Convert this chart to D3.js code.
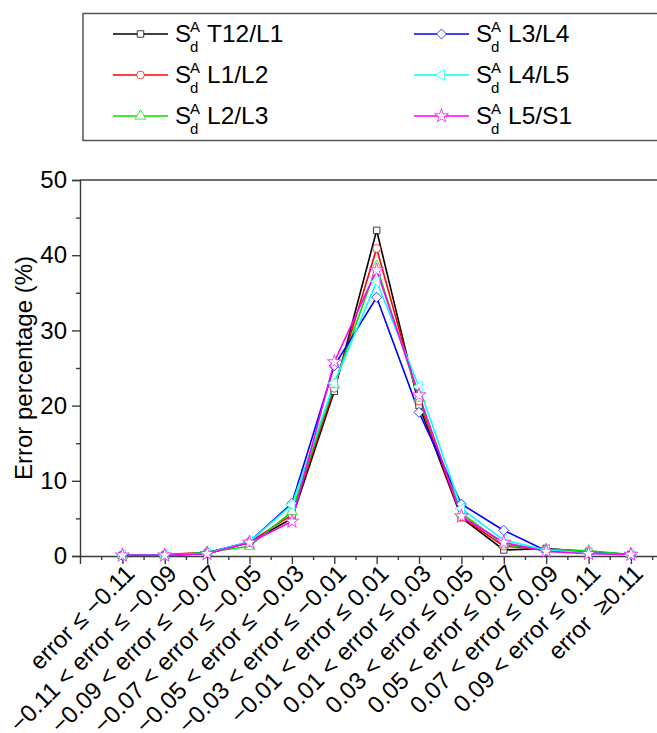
<!DOCTYPE html>
<html>
<head>
<meta charset="utf-8">
<script src="https://cdn.jsdelivr.net/npm/d3@7"></script>
<style>
body { margin: 0; background: #fff; }
svg { display: block; font-family: "Liberation Sans", Arial, sans-serif; }
</style>
</head>
<body>
<div id="chart"></div>
<script>
// categories (error bins)
const categories = [
  "error \u2264 \u22120.11",
  "\u22120.11 < error \u2264 \u22120.09",
  "\u22120.09 < error \u2264 \u22120.07",
  "\u22120.07 < error \u2264 \u22120.05",
  "\u22120.05 < error \u2264 \u22120.03",
  "\u22120.03 < error \u2264 \u22120.01",
  "\u22120.01 < error \u2264 0.01",
  "0.01 < error \u2264 0.03",
  "0.03 < error \u2264 0.05",
  "0.05 < error \u2264 0.07",
  "0.07 < error \u2264 0.09",
  "0.09 < error \u2264 0.11",
  "error \u00a0\u22650.11"
];
const seriesNames = ["T12/L1", "L1/L2", "L2/L3", "L3/L4", "L4/L5", "L5/S1"];
const t12l1 = [0.1, 0.1, 0.3, 1.8, 5.0, 21.9, 43.3, 20.0, 5.1, 0.8, 1.0, 0.6, 0.2];
const l1l2  = [0.1, 0.2, 0.5, 1.8, 5.5, 22.3, 40.9, 20.6, 5.2, 1.3, 0.9, 0.5, 0.2];
const l2l3  = [0.1, 0.1, 0.5, 1.3, 5.9, 22.8, 38.5, 21.0, 5.7, 1.5, 0.9, 0.7, 0.2];
const l3l4  = [0.1, 0.1, 0.4, 1.9, 7.0, 25.3, 34.4, 19.1, 6.9, 3.4, 0.7, 0.4, 0.2];
const l4l5  = [0.1, 0.1, 0.4, 1.9, 6.8, 23.0, 36.5, 22.5, 6.3, 2.1, 0.8, 0.4, 0.2];
const l5s1  = [0.1, 0.1, 0.3, 1.8, 4.6, 25.8, 38.0, 21.4, 5.3, 1.8, 0.6, 0.3, 0.2];
const yTicks = [0, 10, 20, 30, 40, 50];
const yMinor = [5, 15, 25, 35, 45];

const colors = ["#000000", "#ff0000", "#00e000", "#0000ff", "#00ffff", "#ff00ff"];
const values = [t12l1, l1l2, l2l3, l3l4, l4l5, l5s1];

const W = 657, H = 733;
const svg = d3.select("#chart").append("svg").attr("width", W).attr("height", H);

const x = d3.scaleLinear().domain([-1, 13]).range([80, 673.3]);
const y = d3.scaleLinear().domain([0, 50]).range([556, 180]);
const axisColor = "#3c3c3c";

// marker shapes
function markerPath(k) {
  if (k === 0) return d3.symbol(d3.symbolSquare, 42)();
  if (k === 1) return d3.symbol(d3.symbolCircle, 48)();
  if (k === 2) return d3.symbol(d3.symbolTriangle, 50)();
  if (k === 3) return "M0,-5L5,0L0,5L-5,0Z";
  if (k === 4) return d3.symbol(d3.symbolTriangle, 50)();
  return d3.symbol(d3.symbolStar, 60)();
}
function markerRot(k) { return k === 4 ? " rotate(-90)" : ""; }

// frame top line
svg.append("line").attr("x1", x(-1)).attr("x2", W).attr("y1", y(50)).attr("y2", y(50))
  .attr("stroke", axisColor).attr("stroke-width", 1.4);

// y axis
const yAxis = svg.append("g").attr("transform", `translate(${x(-1)},0)`)
  .call(d3.axisLeft(y).tickValues(yTicks).tickSize(8).tickPadding(5).tickFormat(d3.format("d")));
yAxis.select(".domain").attr("stroke", axisColor).attr("stroke-width", 1.4);
yAxis.selectAll(".tick line").attr("stroke", axisColor).attr("stroke-width", 1.4);
yAxis.selectAll(".tick text").attr("font-size", 24).attr("fill", "#000").attr("font-family", "Liberation Sans, Arial, sans-serif");
const yAxisMinor = svg.append("g").attr("transform", `translate(${x(-1)},0)`)
  .call(d3.axisLeft(y).tickValues(yMinor).tickSize(4).tickFormat(""));
yAxisMinor.select(".domain").remove();
yAxisMinor.selectAll(".tick line").attr("stroke", axisColor).attr("stroke-width", 1.4);

svg.append("text")
  .attr("transform", `translate(32,${(y(0) + y(50)) / 2}) rotate(-90)`)
  .attr("text-anchor", "middle").attr("font-size", 24).text("Error percentage (%)");

// x axis
const xMajor = d3.range(categories.length);
const xMinor = d3.range(-0.5, 13, 1);
const xAxis = svg.append("g").attr("transform", `translate(0,${y(0)})`)
  .call(d3.axisBottom(x).tickValues(xMajor).tickSize(8).tickFormat(i => categories[i]));
xAxis.select(".domain").attr("stroke", axisColor).attr("stroke-width", 1.4);
xAxis.selectAll(".tick line").attr("stroke", axisColor).attr("stroke-width", 1.4);
xAxis.selectAll(".tick text")
  .attr("font-size", 24).attr("fill", "#000").attr("font-family", "Liberation Sans, Arial, sans-serif")
  .attr("text-anchor", "end").attr("dy", null).attr("y", null)
  .attr("transform", "translate(13,19) rotate(-45)");
const xAxisMinor = svg.append("g").attr("transform", `translate(0,${y(0)})`)
  .call(d3.axisBottom(x).tickValues(xMinor).tickSize(4).tickFormat(""));
xAxisMinor.select(".domain").remove();
xAxisMinor.selectAll(".tick line").attr("stroke", axisColor).attr("stroke-width", 1.4);

// series
const line = d3.line().x((d, i) => x(i)).y(d => y(d));
values.forEach((vals, k) => {
  svg.append("path").datum(vals).attr("d", line)
    .attr("fill", "none").attr("stroke", colors[k]).attr("stroke-width", 1.6);
});
values.forEach((vals, k) => {
  svg.append("g").selectAll("path").data(vals).join("path")
    .attr("d", markerPath(k))
    .attr("transform", (d, i) => `translate(${x(i)},${y(d)})${markerRot(k)}`)
    .attr("fill", "#fff").attr("stroke", colors[k]).attr("stroke-width", 1).attr("stroke-opacity", 0.75);
});

// legend
svg.append("rect").attr("x", 83).attr("y", 13.5).attr("width", 640).attr("height", 127)
  .attr("fill", "none").attr("stroke", "#555").attr("stroke-width", 1.5);
const legendCols = [113, 414];
const legendRows = [34, 75, 116];
seriesNames.forEach((name, k) => {
  const lx = legendCols[Math.floor(k / 3)], ly = legendRows[k % 3];
  const g = svg.append("g").attr("transform", `translate(${lx},${ly})`);
  g.append("line").attr("x1", 0).attr("x2", 55).attr("y1", 0).attr("y2", 0)
    .attr("stroke", colors[k]).attr("stroke-width", 1.6);
  g.append("path").attr("d", markerPath(k))
    .attr("transform", `translate(27.5,0)${markerRot(k)}`)
    .attr("fill", "#fff").attr("stroke", colors[k]).attr("stroke-width", 1).attr("stroke-opacity", 0.75);
  g.append("text").attr("x", 62).attr("y", 8).attr("font-size", 24).text("S");
  g.append("text").attr("x", 77).attr("y", -2).attr("font-size", 15).text("A");
  g.append("text").attr("x", 77).attr("y", 18).attr("font-size", 15).text("d");
  g.append("text").attr("x", 94).attr("y", 8).attr("font-size", 24.5).text(name);
});
</script>
</body>
</html>
